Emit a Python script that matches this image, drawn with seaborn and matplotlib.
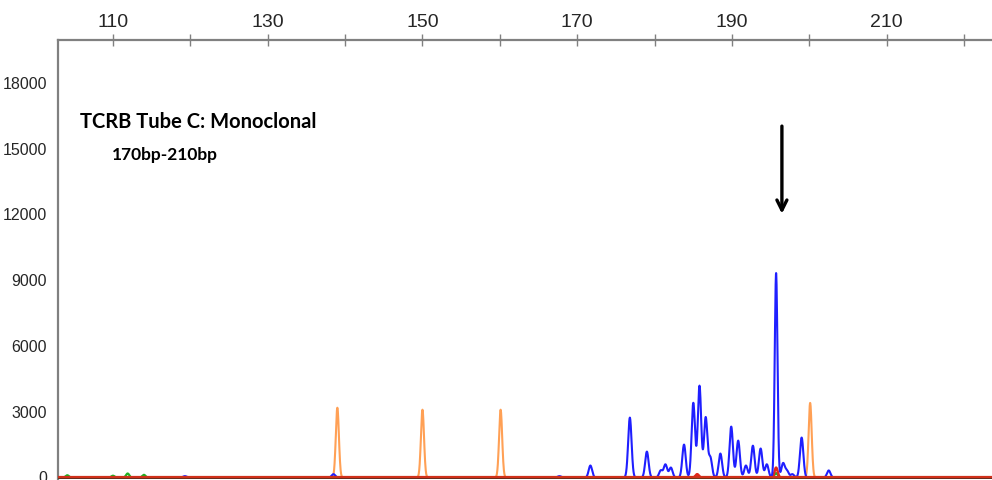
import numpy as np
import pandas as pd
import matplotlib
matplotlib.use("Agg")
import matplotlib.pyplot as plt
import seaborn as sns

# ---- data ----
blue_pos = [119.3, 138.5, 167.7, 171.7, 176.8, 179.0, 180.8, 181.4, 182.1, 183.8, 185.0,
            185.8, 186.6, 187.2, 188.5, 189.9, 190.8, 191.8, 192.7, 193.7, 194.5, 195.7,
            196.6, 197.1, 197.8, 199.0, 202.5]
blue_h = [60, 150, 60, 545, 2730, 1180, 320, 590, 450, 1500, 3400,
          4180, 2730, 900, 1090, 2320, 1680, 545, 1450, 1320, 600, 9320,
          640, 300, 150, 1820, 320]
orange_pos = [139.0, 150.0, 160.1, 200.1]
orange_h = [3180, 3090, 3090, 3400]
red_pos = [185.5, 195.7]
red_h = [150, 450]
green_pos = [104.1, 110.0, 111.9, 114.0, 195.7]
green_h = [100, 80, 180, 120, 200]

x_ticks = [110, 130, 150, 170, 190, 210]
y_ticks = [0, 3000, 6000, 9000, 12000, 15000, 18000]

title_text = "TCRB Tube C: Monoclonal"
sub_text = "170bp-210bp"

# ---- trace construction (peak shapes) ----
grid = np.arange(102.9, 223.6, 0.02)

def trace(pos, h, sigma):
    y = np.zeros_like(grid)
    for p, a in zip(pos, h):
        s = sigma * (0.8 if a > 8000 else 1.0)
        y += a * np.exp(-0.5 * ((grid - p) / s) ** 2)
    return y

df_blue = pd.DataFrame({"bp": grid, "rfu": trace(blue_pos, blue_h, 0.22)})
df_orange = pd.DataFrame({"bp": grid, "rfu": trace(orange_pos, orange_h, 0.2)})
df_red = pd.DataFrame({"bp": grid, "rfu": trace(red_pos, red_h, 0.2)})
df_green = pd.DataFrame({"bp": grid, "rfu": trace(green_pos, green_h, 0.2)})

sns.set_style("white")
plt.rcParams["font.family"] = ["Liberation Sans Narrow", "Liberation Sans", "DejaVu Sans"]

fig = plt.figure(figsize=(9.92, 4.8), dpi=100)
ax = fig.add_axes([58 / 992, 1 / 480, 1 - 58 / 992, 1 - 41 / 480])

sns.lineplot(data=df_green, x="bp", y="rfu", ax=ax, color="#22b022", lw=1.6,
             estimator=None, sort=False)
sns.lineplot(data=df_red, x="bp", y="rfu", ax=ax, color="#e0281a", lw=1.8,
             estimator=None, sort=False)
sns.lineplot(data=df_orange, x="bp", y="rfu", ax=ax, color="#ffa055", lw=1.5,
             estimator=None, sort=False)
sns.lineplot(data=df_blue, x="bp", y="rfu", ax=ax, color="#1f1fff", lw=1.5,
             estimator=None, sort=False)
ax.axhline(-50, color="#5a2a10", lw=2.0, zorder=5)
ax.axhline(10, color="#d0301a", lw=1.6, zorder=6)

ax.set_xlim(102.9, 223.6)
ax.set_ylim(-70, 19950)
ax.set_xlabel("")
ax.set_ylabel("")

ax.xaxis.tick_top()
ax.set_xticks(x_ticks)
ax.set_xticks([t + 10 for t in x_ticks], minor=True)
ax.set_yticks(y_ticks)
ax.set_yticks([t + 1500 for t in y_ticks], minor=True)
ax.tick_params(axis="x", which="both", direction="inout", length=9, width=1,
               color="#808080", labelsize=14, pad=2, top=True, bottom=False)
ax.tick_params(axis="y", which="both", direction="inout", length=6, width=1,
               color="#909090", labelsize=11.5, pad=5)
for side in ["right", "bottom"]:
    ax.spines[side].set_visible(False)
for side in ["top", "left"]:
    ax.spines[side].set_color("#808080")
    ax.spines[side].set_linewidth(1.6)

ax.text(105.74, 16225, title_text, fontsize=14.5, fontweight="bold",
        family=["Lato", "DejaVu Sans"], ha="left", va="center", color="black")
ax.text(109.9, 14725, sub_text, fontsize=12.5, fontweight="bold",
        family=["Lato", "DejaVu Sans"], ha="left", va="center", color="black")

ax.annotate("", xy=(196.45, 11900), xytext=(196.45, 16150),
            arrowprops=dict(arrowstyle="->", lw=2.4, color="black",
                            mutation_scale=18))

fig.savefig("out.png", dpi=100)
